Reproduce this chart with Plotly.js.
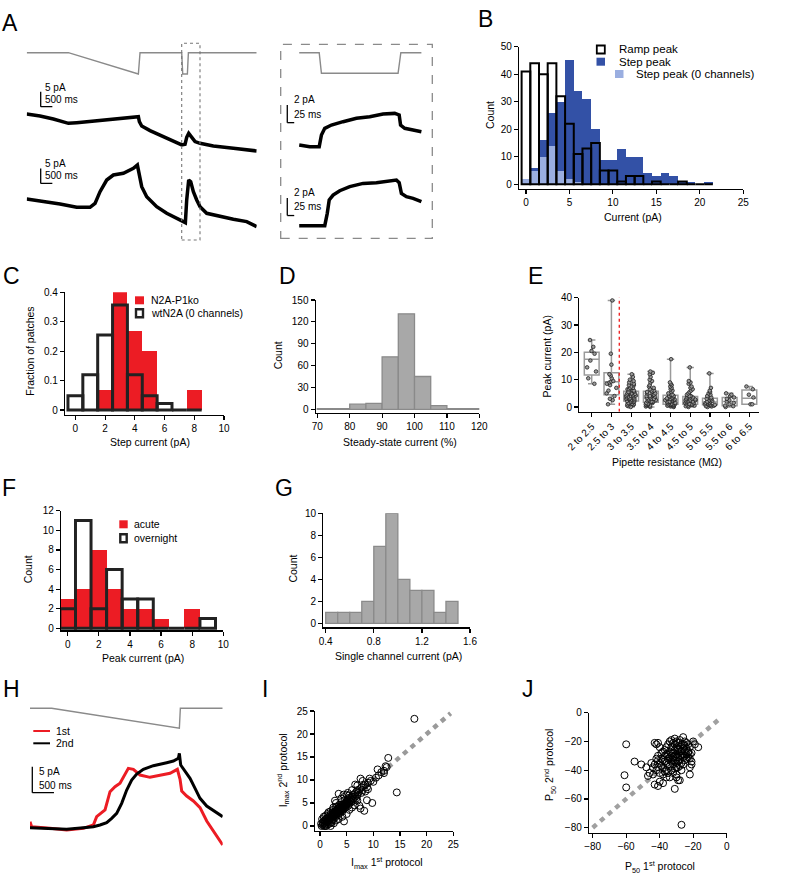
<!DOCTYPE html>
<html>
<head>
<meta charset="utf-8">
<script src="https://cdn.plot.ly/plotly-3.0.1.min.js"></script>
<style>html,body{margin:0;padding:0;background:#fff}#fig{width:786px;height:879px}</style>
</head>
<body>
<div id="fig"></div>
<script>
// ---- A: ramp + step protocol, two example patches (time ms, current pA) ----
var aCmdT = [0, 1788, 4790, 4862, 6650, 6693, 6893, 6936, 9867];
var aCmdP = [0, 0, -1, 0, 0, -1, -1, 0, 0];
var aTr1T = [0, 572, 1144, 1788, 2145, 3146, 4004, 4790, 4833, 4934, 5291, 5720, 6149, 6650, 6793, 6864, 6950, 7079, 7222, 7436, 8008, 8866, 9867];
var aTr1I = [0, -0.67, -1.67, -3.11, -2.89, -2.22, -1.67, -0.89, -2.56, -4.0, -5.55, -6.99, -8.66, -10.32, -10.1, -7.77, -6.44, -7.55, -9.21, -9.77, -10.66, -11.44, -12.32];
var aTr2T = [0, 572, 1430, 2145, 2717, 2932, 3146, 3432, 3718, 4147, 4576, 4748, 4833, 4934, 5148, 5577, 6006, 6435, 6693, 6807, 6864, 6950, 7036, 7150, 7293, 7436, 7722, 8294, 8866, 9438, 9867];
var aTr2I = [0, -0.56, -1.67, -2.78, -2.78, -1.44, 2.44, 6.33, 7.99, 8.55, 10.21, 11.32, 8.55, 4.11, 0.78, -2.55, -4.77, -6.44, -7.55, -7.88, -0.33, 6.33, 5.77, 2.44, -0.33, -2.55, -4.77, -5.88, -6.77, -7.55, -9.21];

// inset (step only)
var inCmdT = [0, 72, 80, 356, 366, 440];
var inCmdP = [0, 0, -1, -1, 0, 0];
var inTr1T = [0, 38, 72, 80, 92, 116, 158, 206, 254, 302, 344, 360, 365, 380, 410, 440];
var inTr1I = [0, -0.19, -0.19, 1.13, 1.89, 2.26, 2.64, 3.02, 3.21, 3.51, 3.58, 3.40, 2.26, 1.89, 1.70, 1.51];
var inTr2T = [0, 74, 92, 101, 108, 122, 146, 182, 230, 278, 314, 350, 360, 368, 386, 410, 440];
var inTr2I = [0, -0.04, 0, 1.40, 2.91, 3.47, 3.96, 4.42, 4.79, 4.87, 4.98, 5.17, 4.87, 3.66, 3.28, 3.09, 2.72];

// ---- B: histograms, 1 pA bins ----
var bCenters = [0, 1, 2, 3, 4, 5, 6, 7, 8, 9, 10, 11, 12, 13, 14, 15, 16, 17, 18, 19, 20, 21];
var bRamp  = [41, 44, 40, 44, 32, 22, 11, 13, 15, 5, 5, 1, 3, 3, 0, 1, 0, 0, 1, 0, 0, 0];
var bStep  = [2, 6, 16, 26, 30, 45, 34, 31, 20, 9, 9, 13, 10, 10, 4, 3, 4, 3, 1, 1, 0, 1];
var bStep0 = [2, 5, 10, 14, 5, 2, 1, 0, 0, 0, 0, 0, 0, 0, 0, 0, 0, 0, 0, 0, 0, 0];

// ---- C ----
var cCenters = [0, 1, 2, 3, 4, 5, 6, 7, 8];
var cKo = [0, 0, 0.067, 0.4, 0.267, 0.2, 0, 0, 0.067];
var cWt = [0.048, 0.12, 0.255, 0.357, 0.12, 0.048, 0.022, 0, 0];

// ---- D ----
var dCenters = [72.5, 77.5, 82.5, 87.5, 92.5, 97.5, 102.5, 107.5, 112.5, 117.5];
var dCounts = [1, 1, 7, 8, 72, 131, 45, 5, 1, 1];

// ---- E ----
var eCats = ["2 to 2.5", "2.5 to 3", "3 to 3.5", "3.5 to 4", "4 to 4.5", "4.5 to 5", "5 to 5.5", "5.5 to 6", "6 to 6.5"];
var eQ1  = [11.7, 4.5, 2.2, 1.7, 1.0, 1.0, 0.8, 0.5, 1.0];
var eMed = [17.5, 9.2, 4.0, 3.3, 2.5, 2.5, 1.8, 2.0, 3.2];
var eQ3  = [20.0, 12.5, 5.8, 5.8, 4.3, 3.8, 3.2, 3.5, 6.2];
var eLo  = [8.5, 1.0, 0, 0, 0, 0, 0, 0, 1.0];
var eHi  = [24.5, 39, 12, 13, 17.5, 14.5, 12.3, 5, 7.5];
var ePts = [
  [24.5, 22, 20.5, 19.5, 17, 14.5, 13, 10.5, 8.5],
  [39, 19.5, 15.5, 12, 11.5, 10.5, 9.5, 9.3, 9, 8.5, 8, 7, 6, 5, 4, 3, 2.5, 1],
  [12, 11, 10, 9.5, 9, 8.5, 8, 8, 7.5, 7, 7, 6.5, 6.5, 6, 6, 5.5, 5.5, 5.5, 5, 5, 5, 4.8, 4.5, 4.5, 4.2, 4, 4, 4, 3.8, 3.5, 3.5, 3.2, 3, 3, 3, 2.8, 2.5, 2.5, 2.2, 2, 2, 1.8, 1.5, 1.5, 1.2, 1, 1, 0.8, 0.5, 0.3, 0],
  [13, 12.5, 12, 11, 10, 9.5, 9, 8, 7.5, 7, 6.5, 6, 6, 5.5, 5.5, 5, 5, 4.5, 4.5, 4, 4, 3.8, 3.5, 3.3, 3, 3, 2.8, 2.5, 2.5, 2.2, 2, 2, 1.8, 1.5, 1.5, 1.2, 1, 1, 0.8, 0.5, 0.5, 0.2, 0],
  [17.5, 9, 8.5, 8, 7.5, 7, 6.5, 6, 5.5, 5, 4.5, 4.5, 4, 4, 3.8, 3.5, 3.5, 3.2, 3, 3, 3, 2.8, 2.5, 2.5, 2.5, 2.2, 2, 2, 2, 1.8, 1.5, 1.5, 1.5, 1.2, 1, 1, 1, 0.8, 0.8, 0.5, 0.5, 0.5, 0.3, 0.2, 0],
  [14.5, 9.5, 9, 8.5, 7.5, 7, 6.5, 6, 5.5, 5, 4.5, 4, 4, 3.8, 3.5, 3.5, 3.2, 3, 3, 2.8, 2.5, 2.5, 2.5, 2.2, 2, 2, 1.8, 1.5, 1.5, 1.2, 1, 1, 1, 0.8, 0.5, 0.5, 0.3, 0],
  [12.3, 7, 6, 5.5, 5, 4.5, 4, 3.5, 3.2, 3, 2.8, 2.5, 2.2, 2, 2, 1.8, 1.5, 1.5, 1.2, 1, 1, 0.8, 0.8, 0.5, 0.5, 0.3, 0.2, 0],
  [5, 4.5, 4, 3.5, 3, 2.5, 2, 1.5, 1, 0.5, 0.3, 0],
  [7.5, 6.5, 4.5, 3.5, 1, 1]
];
var eCutoff = 1.4; // dashed divider between categories

// ---- F ----
var fCenters = [0, 1, 2, 3, 4, 5, 6, 7, 8, 9];
var fAcute = [3, 4, 8, 4, 2, 2, 1, 0, 2, 0];
var fOvernight = [2, 11, 2, 6, 3, 3, 0, 0, 0, 1];

// ---- G ----
var gCenters = [0.45, 0.55, 0.65, 0.75, 0.85, 0.95, 1.05, 1.15, 1.25, 1.35, 1.45];
var gCounts = [1, 1, 1, 2, 7, 10, 4, 3, 3, 1, 2];

// ---- H: repeated ramp protocol ----
var hCmdT = [0, 500, 3446, 3469, 4446];
var hCmdP = [0, 0, -1, 0, 0];
var h1T = [0, 38, 461, 846, 1231, 1462, 1538, 1615, 1731, 1846, 1962, 2077, 2192, 2269, 2385, 2538, 2769, 3000, 3231, 3400, 3462, 3500, 3615, 3769, 3923, 4077, 4231, 4346, 4446];
var h1I = [1.15, 0.19, -0.13, -0.45, -0.13, 0.51, 2.12, 2.63, 3.40, 6.92, 7.88, 8.53, 10.13, 11.41, 11.22, 10.13, 9.68, 10.06, 10.45, 11.22, 9.29, 7.05, 6.09, 5.13, 3.85, 1.28, -0.64, -2.05, -3.33];
var h2T = [0, 461, 846, 1231, 1462, 1615, 1769, 1885, 2000, 2115, 2231, 2346, 2462, 2615, 2846, 3154, 3308, 3423, 3446, 3477, 3577, 3692, 3808, 3923, 4077, 4231, 4446];
var h2I = [0, -0.13, -0.32, 0, 0.19, 0.51, 0.96, 1.79, 2.76, 4.68, 7.24, 9.17, 10.32, 11.22, 11.92, 12.5, 12.82, 13.33, 14.29, 12.05, 10.77, 9.49, 7.56, 5.64, 4.17, 3.27, 2.12];

// ---- I: Imax 1st vs 2nd protocol ----
var iX = [0.3, 0.5, 0.8, 1.0, 1.2, 2.0, 0.5, 0.8, 1.0, 1.2, 1.4, 1.5, 1.6, 1.8, 1.8, 2.0, 2.0, 2.2, 2.2, 2.4, 2.5, 2.5, 2.6, 2.8, 2.8, 3.0, 3.0, 3.2, 3.2, 3.4, 3.5, 3.5, 3.6, 3.8, 3.8, 4.0, 4.0, 4.2, 4.2, 4.4, 4.5, 4.6, 4.8, 4.8, 5.0, 5.0, 5.2, 5.4, 5.5, 5.6, 5.8, 6.0, 6.0, 6.2, 6.4, 6.5, 6.8, 7.0, 7.0, 7.2, 7.5, 7.6, 7.8, 8.0, 8.2, 8.5, 8.8, 9.0, 9.3, 9.5, 10.0,
  4.5, 3.0, 3.5, 4.2, 5.0, 6.0, 6.5, 7.4, 7.6, 8.3, 8.8, 9.8, 7.0, 5.5, 2.0, 1.0, 2.5, 3.0, 4.0, 5.0, 6.0, 3.5, 4.4, 5.2, 2.8, 7.0, 6.6, 8.0,
  10.8, 11.5, 12.0, 12.3, 12.5, 12.8, 12.0, 14.4, 17.7, 11.0, 10.5,
  0.2, 0.6, 0.9, 1.1, 1.3, 1.5, 1.7, 1.9, 2.1, 2.3, 2.6, 2.7, 2.9, 3.1, 3.3, 3.4, 3.6, 3.7, 3.9, 4.1, 4.3, 4.5, 4.7, 4.9, 5.1, 5.3, 5.6, 5.9, 6.2, 6.6, 0.4, 0.7, 1.4, 1.6, 2.4, 3.0, 3.6, 4.0, 4.6, 5.4, 6.8, 7.8, 8.5, 9.0, 2.2, 2.6, 1.0, 1.5];
var iY = [0.0, 0.2, 0.0, 0.3, 0.0, 0.0, 0.8, 1.2, 1.0, 1.5, 0.8, 1.2, 2.0, 1.5, 0.5, 1.8, 2.5, 1.2, 2.0, 2.8, 1.5, 2.2, 3.0, 2.5, 1.8, 3.2, 2.2, 2.8, 3.6, 3.0, 2.4, 4.0, 3.4, 3.0, 4.2, 3.6, 4.6, 3.2, 4.0, 4.8, 3.8, 4.4, 5.0, 4.0, 4.6, 5.4, 5.0, 5.8, 4.8, 5.4, 6.0, 5.6, 6.4, 6.8, 6.0, 7.0, 7.4, 6.6, 7.8, 7.2, 8.0, 10.3, 8.4, 7.8, 8.8, 9.0, 8.4, 9.4, 10.3, 9.8, 9.6,
  1.0, 1.2, 1.5, 2.0, 2.6, 4.0, 4.5, 4.4, 3.8, 3.3, 5.6, 5.0, 5.5, 3.5, 3.2, 2.2, 4.0, 5.0, 6.0, 6.8, 7.8, 7.0, 6.8, 7.2, 5.5, 8.8, 9.0, 9.8,
  12.3, 11.7, 12.0, 13.0, 12.8, 14.8, 11.5, 7.3, 23.3, 11.0, 10.5,
  0.5, 0.5, 0.6, 1.4, 1.1, 1.7, 1.3, 2.2, 1.6, 2.4, 2.1, 2.7, 3.3, 2.6, 3.2, 3.8, 2.8, 3.7, 3.5, 4.2, 3.6, 4.5, 4.2, 4.8, 5.2, 4.4, 6.2, 5.2, 5.8, 6.4, 1.5, 2.0, 2.6, 3.0, 3.5, 4.2, 4.6, 5.2, 5.6, 6.6, 6.0, 7.2, 7.5, 8.0, 0.8, 0.6, 0.0, 0.4];
var unityI = [0, 24.5];

// ---- J: P50 1st vs 2nd protocol ----
var jX = [-60, -61, -60, -55, -51, -27, -17, -48, -47, -44, -43, -42, -41, -40, -43, -41, -40, -38, -31, -30, -29, -30, -28, -22, -22, -21, -21, -22, -26, -25, -20, -23, -22, -21, -19,
  -42, -41, -40, -39, -38, -38, -37, -37, -36, -36, -35, -35, -34, -34, -33, -33, -33, -32, -32, -32, -31, -31, -31, -30, -30, -30, -29, -29, -29, -28, -28, -28, -27, -27, -27, -26, -26, -26, -25, -25, -25, -24, -24, -24, -23, -23,
  -36, -35, -34, -33, -32, -31, -30, -29, -28, -45, -44, -43, -42, -41, -40, -39, -38, -37, -36, -35, -34, -33, -32, -31, -30, -29, -28, -27, -26,
  -41, -39, -37, -35, -33, -31, -29, -27, -25, -23, -46, -38, -36, -34, -32, -30, -28, -26, -24, -22];
var jY = [-22, -43.5, -52, -34, -36, -78, -24, -38, -44, -43, -21, -22, -21, -24, -50, -51, -48, -49, -53, -45, -47, -43, -47, -43, -38, -36, -34, -32, -17, -20, -20, -22, -24, -28, -22,
  -32, -30, -35, -28, -33, -38, -30, -26, -35, -40, -29, -32, -37, -27, -30, -34, -24, -28, -31, -36, -26, -33, -22, -29, -35, -20, -27, -31, -38, -24, -30, -33, -22, -27, -35, -25, -29, -31, -23, -27, -33, -25, -29, -21, -27, -31,
  -24, -22, -20, -19, -21, -18, -24, -21, -19, -35, -38, -36, -40, -38, -42, -37, -43, -41, -45, -42, -45, -40, -42, -39, -38, -34, -37, -40, -36,
  -33, -32, -34, -36, -28, -30, -25, -30, -30, -28, -42, -27, -29, -31, -33, -31, -27, -22, -32, -29];
var unityJ = [-80, -3];

// scale bars
var aBarPA = 5, aBarMS = 500, inBarPA = 2, inBarMS = 25, hBarPA = 5, hBarMS = 500;

// ---------------------------------------------------------------
var W = 786, H = 879;
var FONT = 'Liberation Sans, Arial, sans-serif';
var BLUE = '#3351a6', LIGHTBLUE = '#9aaee0', RED = '#ec1c24';
function hd(a, b) { return [a / W, b / W]; }
function vd(top, bottom) { return [1 - bottom / H, 1 - top / H]; }
function sx(n) { return n === 1 ? '' : String(n); }

var layout = {
  width: W, height: H, margin: {l: 0, r: 0, t: 0, b: 0},
  paper_bgcolor: '#fff', plot_bgcolor: 'rgba(0,0,0,0)',
  barmode: 'overlay', bargap: 0, boxmode: 'overlay', showlegend: false,
  font: {family: FONT, size: 10, color: '#000'},
  shapes: [], annotations: []
};

function setAxes(n, xdom, xr, ydom, yr, show, xextra, yextra) {
  var base = {showline: true, linecolor: '#000', linewidth: 1.2, ticks: 'outside', ticklen: 4,
    tickwidth: 1.2, tickcolor: '#000', tickfont: {family: FONT, size: 10, color: '#000'},
    showgrid: false, zeroline: false, fixedrange: true};
  var xa = show ? Object.assign({}, base) : {visible: false, fixedrange: true};
  var ya = show ? Object.assign({}, base) : {visible: false, fixedrange: true};
  xa.domain = xdom; xa.range = xr; xa.anchor = 'y' + sx(n);
  ya.domain = ydom; ya.range = yr; ya.anchor = 'x' + sx(n);
  Object.assign(xa, xextra || {}); Object.assign(ya, yextra || {});
  layout['xaxis' + sx(n)] = xa; layout['yaxis' + sx(n)] = ya;
}

// trace panels (no axes)
setAxes(1, hd(26.7, 256.7), [0, 9867], vd(48, 80), [-1.28, 0.22], false);
setAxes(2, hd(26.7, 256.7), [0, 9867], vd(85, 158), [-14.67, 9.67], false);
setAxes(3, hd(26.7, 256.7), [0, 9867], vd(160, 232), [-11, 13], false);
setAxes(4, hd(282, 425), [-62, 453], vd(48, 80), [-1.33, 0.23], false);
setAxes(5, hd(282, 425), [-62, 453], vd(95, 165), [-2.26, 5.66], false);
setAxes(6, hd(282, 425), [-62, 453], vd(172, 240), [-1.62, 6.08], false);
setAxes(7, hd(30, 222.7), [0, 4446], vd(703, 735), [-1.335, 0.265], false);
setAxes(8, hd(30, 222.7), [0, 4446], vd(745, 862), [-6.6, 15.9], false);
// plots
setAxes(9, hd(519, 743.3), [-0.8, 25], vd(46.7, 188.7), [-1.6, 50], true, {dtick: 5}, {dtick: 10});
setAxes(10, hd(65, 224), [-0.7, 10], vd(292.3, 415), [-0.017, 0.4], true, {dtick: 2}, {dtick: 0.1});
setAxes(11, hd(315.7, 479.3), [69.5, 120], vd(300, 412.7), [-4.7, 150], true, {dtick: 10}, {dtick: 30});
setAxes(12, hd(579.3, 759.2), [-0.63, 8.5], vd(297.7, 411.7), [-1.72, 40], true,
  {type: 'category', categoryorder: 'array', categoryarray: eCats, tickangle: -45}, {dtick: 10});
setAxes(13, hd(61, 223.3), [-0.43, 10], vd(510.7, 630.3), [-0.2, 12], true, {dtick: 2}, {dtick: 2});
setAxes(14, hd(323.3, 470), [0.38, 1.6], vd(513.3, 627.3), [-0.36, 10], true, {tick0: 0, dtick: 0.4}, {dtick: 2});
setAxes(15, hd(315, 453.3), [-0.94, 25], vd(711, 831), [-1.09, 25], true, {dtick: 5}, {dtick: 5});
setAxes(16, hd(589, 726.7), [-82.2, 0], vd(712.7, 832.7), [-83.5, 0], true, {dtick: 20}, {dtick: 20});

var data = [];
function ref(n) { return {xaxis: 'x' + sx(n), yaxis: 'y' + sx(n), hoverinfo: 'skip'}; }
function line(n, x, y, color, width, dash) {
  data.push(Object.assign({type: 'scatter', mode: 'lines', x: x, y: y,
    line: {color: color, width: width, dash: dash || 'solid'}}, ref(n)));
}
function bars(n, x, y, fill, edge, edgeWidth) {
  data.push(Object.assign({type: 'bar', x: x, y: y,
    marker: {color: fill, line: {color: edge || fill, width: edgeWidth || 0}}}, ref(n)));
}

// A
line(1, aCmdT, aCmdP, '#8a8a8a', 1.4);
line(2, aTr1T, aTr1I, '#000', 3.5);
line(3, aTr2T, aTr2I, '#000', 3.5);
line(4, inCmdT, inCmdP, '#8a8a8a', 1.4);
line(5, inTr1T, inTr1I, '#000', 3.5);
line(6, inTr2T, inTr2I, '#000', 3.5);
// H
line(7, hCmdT, hCmdP, '#8a8a8a', 1.4);
line(8, h1T, h1I, RED, 3);
line(8, h2T, h2I, '#000', 3);

// B
bars(9, bCenters, bStep, BLUE);
bars(9, bCenters, bStep0, LIGHTBLUE);
bars(9, bCenters, bRamp, 'rgba(255,255,255,0)', '#000', 2);
// C
bars(10, cCenters, cKo, RED);
bars(10, cCenters, cWt, 'rgba(255,255,255,0)', '#222', 3);
// D
bars(11, dCenters, dCounts, '#a8a8a8', '#8a8a8a', 1.3);

// E: box summary + every patch as a point
data.push(Object.assign({type: 'box', x: eCats, q1: eQ1, median: eMed, q3: eQ3, lowerfence: eLo, upperfence: eHi,
  boxpoints: false, width: 0.75, fillcolor: 'rgba(255,255,255,0)', line: {color: '#9a9a9a', width: 1.5}}, ref(12)));
var ePtsX = [], ePtsY = [];
eCats.forEach(function (c, k) {
  ePts[k].forEach(function (v) { ePtsX.push(c); ePtsY.push(v); });
});
data.push(Object.assign({type: 'box', x: ePtsX, y: ePtsY, boxpoints: 'all', jitter: 0.75, pointpos: 0, width: 0.75,
  fillcolor: 'rgba(0,0,0,0)', line: {color: 'rgba(0,0,0,0)', width: 0},
  marker: {size: 3.6, color: '#9a9a9a', line: {color: '#222', width: 0.8}}}, ref(12)));

// F
bars(13, fCenters, fAcute, RED);
bars(13, fCenters, fOvernight, 'rgba(255,255,255,0)', '#222', 3);
// G
bars(14, gCenters, gCounts, '#a8a8a8', '#8a8a8a', 1.3);

// I, J
line(15, unityI, unityI, '#9a9a9a', 4.5, '5px,5px');
data.push(Object.assign({type: 'scatter', mode: 'markers', x: iX, y: iY,
  marker: {symbol: 'circle-open', size: 7, color: '#000', line: {color: '#000', width: 1}}}, ref(15)));
line(16, unityJ, unityJ, '#a0a0a0', 4.5, '5px,5px');
data.push(Object.assign({type: 'scatter', mode: 'markers', x: jX, y: jY,
  marker: {symbol: 'circle-open', size: 7, color: '#000', line: {color: '#000', width: 1}}}, ref(16)));

// text
function txt(s, x, y, size, extra) {
  layout.annotations.push(Object.assign({text: s, x: x / W, y: 1 - y / H, xref: 'paper', yref: 'paper',
    showarrow: false, xanchor: 'center', yanchor: 'middle', font: {family: FONT, size: size, color: '#000'}}, extra || {}));
}
[['A', 10, 23.5], ['B', 485, 18.5], ['C', 11, 276], ['D', 287, 276], ['E', 535, 276],
 ['F', 9, 487.5], ['G', 284, 487.5], ['H', 11, 689], ['I', 265, 689], ['J', 528, 689]].forEach(function (l) {
  txt(l[0], l[1], l[2], 23);
});
var rot = {textangle: -90};
txt('Count', 490, 115, 10.5, rot);
txt('Current (pA)', 633, 217, 10.5);
txt('Fraction of patches', 30, 351.7, 10.5, rot);
txt('Step current (pA)', 150, 441.7, 10.5);
txt('Count', 278.3, 355, 10.5, rot);
txt('Steady-state current (%)', 400, 442.3, 10.5);
txt('Peak current (pA)', 546.7, 356.7, 10.5, rot);
txt('Pipette resistance (MΩ)', 666.7, 461.7, 10.5);
txt('Count', 28.3, 569, 10.5, rot);
txt('Peak current (pA)', 143.3, 658.3, 10.5);
txt('Count', 293.3, 568.3, 10.5, rot);
txt('Single channel current (pA)', 398.3, 656, 10.5);
txt('I<sub>max</sub> 2<sup>nd</sup> protocol', 283.3, 770, 10.5, rot);
txt('I<sub>max</sub> 1<sup>st</sup> protocol', 386.7, 863.3, 10.5);
txt('P<sub>50</sub> 2<sup>nd</sup> protocol', 550, 765, 10.5, rot);
txt('P<sub>50</sub> 1<sup>st</sup> protocol', 660, 866.7, 10.5);
var la = {xanchor: 'left'};
txt(aBarPA + ' pA', 43.3, 87, 10, la); txt(aBarMS + ' ms', 43.3, 100, 10, la);
txt(aBarPA + ' pA', 43.3, 163, 10, la); txt(aBarMS + ' ms', 43.3, 176, 10, la);
txt(inBarPA + ' pA', 291.7, 100, 10, la); txt(inBarMS + ' ms', 291.7, 115, 10, la);
txt(inBarPA + ' pA', 291.7, 192.7, 10, la); txt(inBarMS + ' ms', 291.7, 206.7, 10, la);
txt(hBarPA + ' pA', 36.7, 771, 10, la); txt(hBarMS + ' ms', 36.7, 785, 10, la);

// legend keys: swatch + label
function key(label, x0, x1, cy, size, fill, edge, edgeWidth, textLeft) {
  layout.shapes.push({type: 'rect', xref: 'paper', yref: 'paper', x0: x0 / W, x1: x1 / W,
    y0: 1 - (cy + 4) / H, y1: 1 - (cy - 4) / H, fillcolor: fill,
    line: {color: edge || fill, width: edgeWidth || 0}});
  txt(label, textLeft, cy, size, la);
}
function lineKey(label, color, cy) {
  layout.shapes.push({type: 'line', xref: 'paper', yref: 'paper', x0: 33.3 / W, x1: 50 / W,
    y0: 1 - cy / H, y1: 1 - cy / H, line: {color: color, width: 2}});
  txt(label, 54.3, cy, 10.5, la);
}
key('Ramp peak', 596.8, 604.8, 49.5, 11.5, '#fff', '#000', 1.8, 616.7);
key('Step peak', 596.5, 605, 61.7, 11.5, BLUE, null, 0, 616.7);
key('Step peak (0 channels)', 615, 623.5, 74, 11.5, LIGHTBLUE, null, 0, 634);
key('N2A-P1ko', 135, 144, 300.3, 10.5, RED, null, 0, 149);
key('wtN2A (0 channels)', 136, 143, 313.3, 10.5, '#fff', '#222', 2.4, 149);
key('acute', 119.3, 127.7, 524.3, 10.5, RED, null, 0, 131.7);
key('overnight', 120.3, 126.7, 538.3, 10.5, '#fff', '#222', 2.4, 131.7);
lineKey('1st', RED, 731);
lineKey('2nd', '#000', 743.3);

// scale bars in the data units of each trace panel
function scaleBar(n, t0, i0, ms, pa) {
  var r = {xref: 'x' + sx(n), yref: 'y' + sx(n), type: 'line', line: {color: '#000', width: 1.3}};
  layout.shapes.push(Object.assign({x0: t0, x1: t0, y0: i0, y1: i0 + pa}, r));
  layout.shapes.push(Object.assign({x0: t0, x1: t0 + ms, y0: i0, y1: i0}, r));
}
scaleBar(2, 600, 2.44, aBarMS, aBarPA);
scaleBar(3, 600, 5.2, aBarMS, aBarPA);
scaleBar(5, -43, 2.53, inBarMS, inBarPA);
scaleBar(6, -43, 1.15, inBarMS, inBarPA);
scaleBar(8, 53, 6.73, hBarMS, hBarPA);

// boxes marking the step window in A
layout.shapes.push({type: 'rect', xref: 'paper', yref: 'paper', x0: 181.7 / W, x1: 200 / W, y0: 1 - 240 / H, y1: 1 - 43.3 / H,
  line: {color: '#777', width: 1.1, dash: 'dot'}});
layout.shapes.push({type: 'rect', xref: 'paper', yref: 'paper', x0: 280.7 / W, x1: 432.3 / W, y0: 1 - 238.3 / H, y1: 1 - 44.3 / H,
  line: {color: '#8a8a8a', width: 1.3, dash: 'dash'}});
// threshold in E
layout.shapes.push({type: 'line', xref: 'x12', yref: 'y12', x0: eCutoff, x1: eCutoff, y0: -1.7, y1: 40.5,
  line: {color: '#f02828', width: 1.4, dash: 'dot'}});

Plotly.newPlot('fig', data, layout, {staticPlot: true, displayModeBar: false});
</script>
</body>
</html>
